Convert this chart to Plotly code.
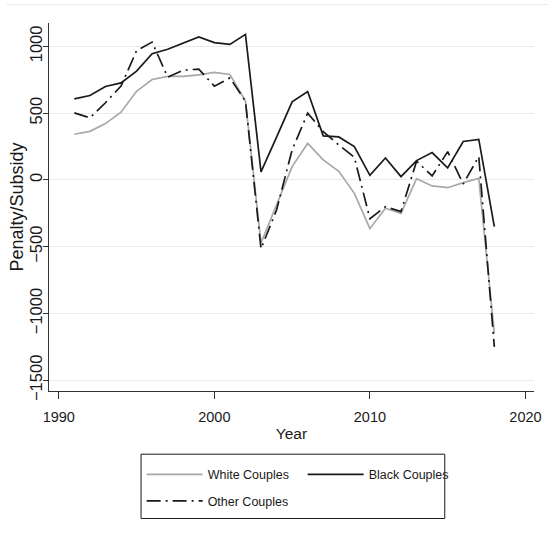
import plotly.graph_objects as go

# Annual marriage penalty (-) / subsidy (+) by couple type
years = list(range(1991, 2019))

white_couples = [342, 364, 422, 507, 664, 752, 775, 775, 786, 806,
                 790, 590, -472, -180, 100, 273, 150, 65, -100, -365,
                 -212, -250, 10, -45, -58, -20, 12, -1150]

black_couples = [607, 632, 700, 727, 815, 945, 978, 1024, 1070, 1028,
                 1015, 1090, 60, 320, 585, 662, 330, 322, 250, 35,
                 164, 25, 145, 205, 90, 288, 304, -350]

other_couples = [502, 465, 578, 703, 968, 1032, 770, 822, 830, 702,
                 764, 590, -515, -225, 225, 500, 362, 262, 170, -290,
                 -200, -237, 140, 30, 212, -30, 175, -1250]

x_ticks = [1990, 2000, 2010, 2020]
y_ticks = [-1500, -1000, -500, 0, 500, 1000]

FONT = "Liberation Sans, Arial, sans-serif"
INK = "#1a1a1a"
GRID = "#e4ecee"

fig = go.Figure()
fig.add_trace(go.Scatter(
    x=years, y=white_couples, mode="lines", name="White Couples",
    line=dict(color="#a8a8a8", width=1.7), legend="legend"))
fig.add_trace(go.Scatter(
    x=years, y=black_couples, mode="lines", name="Black Couples",
    line=dict(color=INK, width=1.7), legend="legend"))
fig.add_trace(go.Scatter(
    x=years, y=other_couples, mode="lines", name="Other Couples",
    line=dict(color=INK, width=1.7, dash="14px,5px,2px,5px"), legend="legend2"))

legend_common = dict(
    orientation="h", xanchor="left", yanchor="middle",
    font=dict(family=FONT, size=12.5, color=INK),
    bgcolor="rgba(0,0,0,0)", borderwidth=0, itemwidth=56,
    entrywidth=90, entrywidthmode="pixels",
)

fig.update_layout(
    width=552, height=535,
    margin=dict(l=49, r=11, t=23, b=144),
    paper_bgcolor="white", plot_bgcolor="white",
    showlegend=True,
    legend=dict(x=0.191, y=-0.2274, **legend_common),
    legend2=dict(x=0.191, y=-0.2995, **legend_common),
    shapes=[
        # legend frame
        dict(type="rect", xref="paper", yref="paper",
             x0=0.1898, x1=0.816, y0=-0.3465, y1=-0.1717,
             line=dict(color=INK, width=1), fillcolor="rgba(0,0,0,0)"),
        # faint outer border line across the top
        dict(type="line", xref="paper", yref="paper",
             x0=-0.0874, x1=1.03, y0=1.0503, y1=1.0503,
             line=dict(color=GRID, width=1)),
    ],
    annotations=[
        # y-axis title
        dict(text="Penalty/Subsidy", textangle=-90, xref="paper", yref="paper",
             x=(17 - 49) / 492, y=0.5, xanchor="center", yanchor="middle",
             showarrow=False, font=dict(family=FONT, size=18, color=INK)),
    ],
)

fig.update_xaxes(
    range=[1989.37, 2020.55], tickvals=x_ticks,
    ticks="outside", ticklen=7, tickwidth=1, tickcolor="#333",
    showline=True, linecolor="#333", linewidth=1,
    showgrid=False, zeroline=False, ticklabelstandoff=6,
    tickfont=dict(family=FONT, size=14.5, color=INK),
    title=dict(text="Year", font=dict(family=FONT, size=15.5, color=INK), standoff=3),
)
fig.update_yaxes(
    range=[-1580, 1175], tickvals=y_ticks, tickangle=-90,
    ticks="outside", ticklen=5, tickwidth=1, tickcolor="#333",
    showline=True, linecolor="#333", linewidth=1,
    showgrid=True, gridcolor=GRID, gridwidth=1, zeroline=False,
    ticklabelstandoff=-6,
    tickfont=dict(family=FONT, size=16.5, color=INK),
)

fig.write_html("out.html")
